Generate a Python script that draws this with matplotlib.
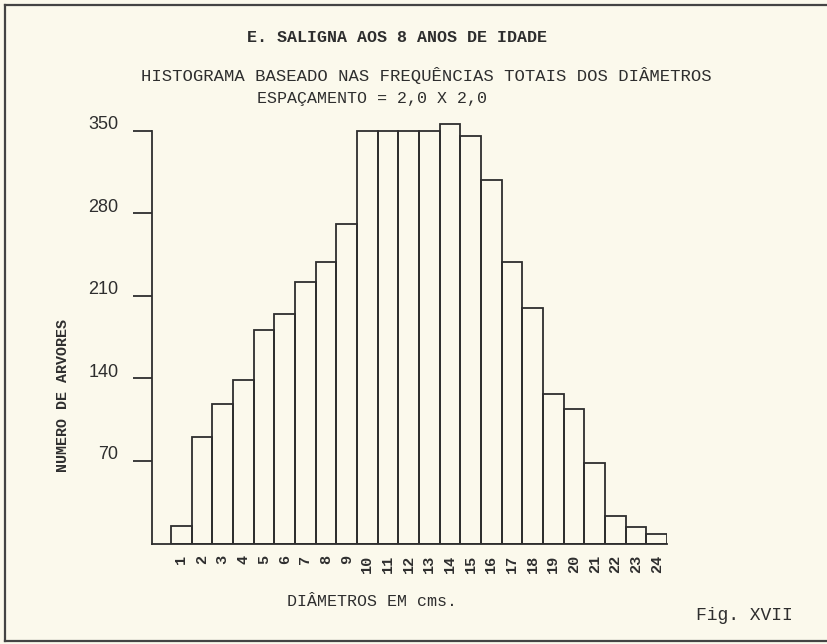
import matplotlib
matplotlib.use("Agg")
import matplotlib.pyplot as plt
from matplotlib.lines import Line2D
from matplotlib.transforms import ScaledTranslation

# dados (diametros em cm, numero de arvores)
diametros = list(range(1, 25))
arvores = [15, 90, 118, 139, 181, 195, 222, 239, 271, 350, 350, 350,
           350, 356, 346, 308, 239, 200, 127, 114, 68, 23, 14, 8]
yticks = [70, 140, 210, 280, 350]

papel = "#fbf9ec"
tinta = "#2e2e2e"
mono = ["Liberation Mono", "DejaVu Sans Mono"]

fig = plt.figure(figsize=(8.27, 6.44), dpi=100, facecolor=papel)
W, H = 827, 644
# eixo: x de 152 a 667 px, base em 543.5 px
ax = fig.add_axes([152 / W, (H - 543.5) / H, 515 / W, 360 * 1.1786 / H])
ax.set_facecolor(papel)

ax.bar(diametros, arvores, width=1.0, fill=False, edgecolor=tinta, linewidth=1.3)
ax.set_xlim(-0.42, 24.5)
ax.set_ylim(0, 360)

for s in ["top", "right"]:
    ax.spines[s].set_visible(False)
ax.spines["left"].set_bounds(0, 350)
for s in ["left", "bottom"]:
    ax.spines[s].set_color(tinta)
    ax.spines[s].set_linewidth(1.3)

ax.set_yticks(yticks)
ax.set_yticklabels([str(v) for v in yticks], fontsize=13, color=tinta,
                   family="Liberation Sans")
ax.tick_params(axis="y", length=13.7, width=1.3, color=tinta, pad=10.5)
# numeros datilografados um pouco acima dos tracos
for lab in ax.get_yticklabels():
    lab.set_transform(lab.get_transform() + ScaledTranslation(0, 8 / 100, fig.dpi_scale_trans))

ax.set_xticks(diametros)
ax.set_xticklabels([str(d) for d in diametros], rotation=90, fontsize=11,
                   color=tinta, family=mono, fontweight="bold")
ax.tick_params(axis="x", length=0, pad=8)

fig.text(63 / W, 1 - 396 / H, "NUMERO DE ARVORES", rotation=90, ha="center", va="center",
         fontsize=10.8, family=mono, fontweight="bold", color=tinta)

# titulos
fig.text(397 / W, 1 - 38 / H, "E. SALIGNA AOS 8 ANOS DE IDADE", ha="center", va="center",
         fontsize=12, family=mono, fontweight="bold", color=tinta)
fig.text(426 / W, 1 - 76 / H, "HISTOGRAMA BASEADO NAS FREQUÊNCIAS TOTAIS DOS DIÂMETROS",
         ha="center", va="center", fontsize=12.4, family=mono, color=tinta)
fig.text(372 / W, 1 - 98 / H, "ESPAÇAMENTO = 2,0 X 2,0", ha="center", va="center",
         fontsize=12, family=mono, color=tinta)
fig.text(372 / W, 1 - 602 / H, "DIÂMETROS EM cms.", ha="center", va="center",
         fontsize=12, family=mono, color=tinta)
fig.text(744 / W, 1 - 616 / H, "Fig. XVII", ha="center", va="center",
         fontsize=13, family=mono, color=tinta)

# moldura (esquerda, topo, base)
fig.add_artist(Line2D([4.5 / W, 4.5 / W], [3 / H, 1 - 5 / H], color="#444444", linewidth=1.6))
fig.add_artist(Line2D([4.5 / W, 1], [1 - 5 / H, 1 - 5 / H], color="#444444", linewidth=1.6))
fig.add_artist(Line2D([4.5 / W, 1], [3 / H, 3 / H], color="#444444", linewidth=1.6))

fig.savefig("out.png", dpi=100, facecolor=papel)
